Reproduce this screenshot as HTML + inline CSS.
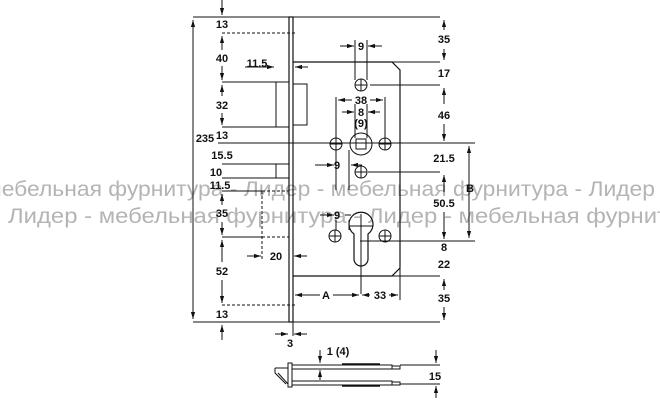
<!DOCTYPE html>
<html><head><meta charset="utf-8"><style>
html,body{margin:0;padding:0;background:#fff;}
svg{display:block;font-family:"Liberation Sans",Arial,sans-serif;}
.t{font-weight:bold;font-size:11px;fill:#111;text-anchor:middle;}
.wm{font-size:21px;fill:#b4b4b4;font-family:"Liberation Sans","DejaVu Sans",sans-serif;}
</style></head><body>
<svg width="660" height="400" viewBox="0 0 660 400" xmlns="http://www.w3.org/2000/svg">
<defs>
<marker id="a" viewBox="0 0 10 10" refX="10" refY="5" markerWidth="7" markerHeight="7" orient="auto-start-reverse"><path d="M0,2 L10,5 L0,8 z" fill="#111"/></marker>
</defs>
<text class="wm" x="-14" y="196" textLength="669" lengthAdjust="spacingAndGlyphs">мебельная фурнитура - Лидер - мебельная фурнитура - Лидер</text>
<text class="wm" x="8" y="223" textLength="660" lengthAdjust="spacingAndGlyphs">Лидер - мебельная фурнитура - Лидер - мебельная фурнит</text>
<g stroke="#111" stroke-width="1" fill="none">
<line x1="193" y1="17" x2="440" y2="17"/>
<line x1="193" y1="322" x2="440" y2="322"/>
<line x1="293" y1="62" x2="440" y2="62"/>
<line x1="370" y1="85" x2="440" y2="85"/>
<line x1="218" y1="143" x2="475" y2="143"/>
<line x1="368" y1="172" x2="440" y2="172"/>
<line x1="360" y1="241" x2="475" y2="241"/>
<line x1="293" y1="276" x2="440" y2="276"/>
<line x1="222" y1="82" x2="276" y2="82"/>
<line x1="222" y1="127" x2="276" y2="127"/>
<line x1="222" y1="164" x2="276" y2="164"/>
<line x1="222" y1="178" x2="276" y2="178"/>
<line x1="222" y1="191" x2="262" y2="191"/>
<line x1="222" y1="237" x2="262" y2="237"/>
<line x1="222" y1="33" x2="297" y2="33" stroke-dasharray="3,2"/>
<line x1="222" y1="305" x2="297" y2="305" stroke-dasharray="3,2"/>
<path d="M262,191 H289 M262,237 H289 M262,191 V260" stroke-dasharray="3,2"/>
<rect x="289" y="17" width="4" height="305" stroke-width="1.2"/>
<path d="M293,62 H392 L400,70 V268 L392,276 H293" stroke-width="1.2"/>
<rect x="276" y="82" width="13" height="45"/>
<rect x="293" y="84" width="14" height="41"/>
<rect x="276" y="164" width="13" height="14"/>
<circle cx="361" cy="85" r="6"/><path d="M355,85h12M361,79v12"/>
<circle cx="336" cy="144" r="6"/><path d="M330,144h12M336,138v12"/>
<circle cx="385" cy="144" r="6"/><path d="M379,144h12M385,138v12"/>
<circle cx="361" cy="144" r="11"/><rect x="356" y="139" width="10" height="10"/>
<circle cx="361" cy="172" r="6"/><path d="M355,172h12M361,166v12"/>
<circle cx="335" cy="236" r="6"/><path d="M329,236h12M335,230v12"/>
<circle cx="385" cy="236" r="6"/><path d="M379,236h12M385,230v12"/>
<path d="M354,234 A12,12 0 1 1 368,234 V259 A7,7 0 0 1 354,259 Z" stroke-width="1.2"/>
<path d="M349,226h24M361,214v80"/>
<path d="M355,40V80 M367,40V80 M336,97V138 M385,97V138 M355,104V138 M367,104V138 M336,150V190 M349,150V190 M336,220V230 M349,220V230 M400,268V300 M293,285V300 M293,322V336"/>
<line x1="193" y1="20" x2="193" y2="319" marker-start="url(#a)" marker-end="url(#a)"/>
<line x1="222" y1="0" x2="222" y2="15" marker-end="url(#a)"/>
<line x1="222" y1="36" x2="222" y2="50" marker-start="url(#a)"/>
<line x1="222" y1="66" x2="222" y2="80" marker-end="url(#a)"/>
<line x1="222" y1="85" x2="222" y2="96" marker-start="url(#a)"/>
<line x1="222" y1="113" x2="222" y2="125" marker-end="url(#a)"/>
<line x1="222" y1="194" x2="222" y2="205" marker-start="url(#a)"/>
<line x1="222" y1="222" x2="222" y2="235" marker-end="url(#a)"/>
<line x1="222" y1="240" x2="222" y2="262" marker-start="url(#a)"/>
<line x1="222" y1="280" x2="222" y2="303" marker-end="url(#a)"/>
<line x1="222" y1="325" x2="222" y2="340" marker-start="url(#a)"/>
<line x1="444" y1="20" x2="444" y2="30" marker-start="url(#a)"/>
<line x1="444" y1="49" x2="444" y2="60" marker-end="url(#a)"/>
<line x1="444" y1="88" x2="444" y2="104" marker-start="url(#a)"/>
<line x1="444" y1="124" x2="444" y2="141" marker-end="url(#a)"/>
<line x1="444" y1="175" x2="444" y2="192" marker-start="url(#a)"/>
<line x1="444" y1="212" x2="444" y2="239" marker-end="url(#a)"/>
<line x1="444" y1="279" x2="444" y2="290" marker-start="url(#a)"/>
<line x1="444" y1="307" x2="444" y2="320" marker-end="url(#a)"/>
<line x1="469" y1="146" x2="469" y2="238" marker-start="url(#a)" marker-end="url(#a)"/>
<line x1="245" y1="67" x2="274" y2="67" marker-end="url(#a)"/>
<line x1="308" y1="67" x2="295" y2="67" marker-end="url(#a)"/>
<line x1="340" y1="46" x2="354" y2="46" marker-end="url(#a)"/>
<line x1="382" y1="46" x2="368" y2="46" marker-end="url(#a)"/>
<line x1="338" y1="100" x2="352" y2="100" marker-start="url(#a)"/>
<line x1="370" y1="100" x2="383" y2="100" marker-end="url(#a)"/>
<line x1="342" y1="112" x2="354" y2="112" marker-end="url(#a)"/>
<line x1="380" y1="112" x2="368" y2="112" marker-end="url(#a)"/>
<line x1="315" y1="165" x2="334" y2="165" marker-end="url(#a)"/>
<line x1="351" y1="165" x2="362" y2="165" marker-start="url(#a)"/>
<line x1="320" y1="215" x2="334" y2="215" marker-end="url(#a)"/>
<line x1="345" y1="215" x2="351" y2="215"/>
<line x1="247" y1="256" x2="261" y2="256" marker-end="url(#a)"/>
<line x1="307" y1="256" x2="294" y2="256" marker-end="url(#a)"/>
<line x1="295" y1="295" x2="320" y2="295" marker-start="url(#a)"/>
<line x1="333" y1="295" x2="359" y2="295" marker-end="url(#a)"/>
<line x1="362" y1="295" x2="370" y2="295" marker-start="url(#a)"/>
<line x1="389" y1="295" x2="398" y2="295" marker-end="url(#a)"/>
<line x1="275" y1="334" x2="288" y2="334" marker-end="url(#a)"/>
<line x1="307" y1="334" x2="294" y2="334" marker-end="url(#a)"/>
<rect x="288" y="363" width="4" height="24"/>
<path d="M275,368 H288 M275,368 L275,373 L286,384 M278,373 L288,384"/>
<rect x="292" y="365" width="100" height="4"/>
<rect x="292" y="381" width="100" height="4"/>
<rect x="392" y="366" width="8" height="3"/>
<rect x="392" y="382" width="8" height="3"/>
<line x1="342" y1="364" x2="380" y2="364" stroke-width="1.5"/>
<line x1="342" y1="386" x2="380" y2="386" stroke-width="1.5"/>
<path d="M400,365 H440 M400,384 H440"/>
<line x1="320" y1="350" x2="320" y2="363" marker-end="url(#a)"/>
<line x1="320" y1="380" x2="320" y2="370" marker-end="url(#a)"/>
<line x1="436" y1="350" x2="436" y2="363" marker-end="url(#a)"/>
<line x1="436" y1="398" x2="436" y2="386" marker-end="url(#a)"/>
</g>
<text class="t" x="222" y="28">13</text>
<text class="t" x="222" y="62">40</text>
<text class="t" x="257" y="67">11.5</text>
<text class="t" x="222" y="109">32</text>
<text class="t" x="205" y="142">235</text>
<text class="t" x="222" y="139">13</text>
<text class="t" x="222" y="159">15.5</text>
<text class="t" x="216" y="176">10</text>
<text class="t" x="220" y="189">11.5</text>
<text class="t" x="222" y="217">35</text>
<text class="t" x="276" y="260">20</text>
<text class="t" x="222" y="275">52</text>
<text class="t" x="222" y="318">13</text>
<text class="t" x="361" y="50">9</text>
<text class="t" x="361" y="104">38</text>
<text class="t" x="361" y="116">8</text>
<text class="t" x="361" y="127">(9)</text>
<text class="t" x="337" y="169">9</text>
<text class="t" x="337" y="219">9</text>
<text class="t" x="326" y="299">A</text>
<text class="t" x="380" y="299">33</text>
<text class="t" x="290" y="347">3</text>
<text class="t" x="444" y="43">35</text>
<text class="t" x="444" y="77">17</text>
<text class="t" x="444" y="119">46</text>
<text class="t" x="444" y="162">21.5</text>
<text class="t" x="470" y="192">B</text>
<text class="t" x="444" y="207">50.5</text>
<text class="t" x="444" y="251">8</text>
<text class="t" x="444" y="268">22</text>
<text class="t" x="444" y="302">35</text>
<text class="t" x="338" y="355">1 (4)</text>
<text class="t" x="435" y="380">15</text>
</svg>
</body></html>
